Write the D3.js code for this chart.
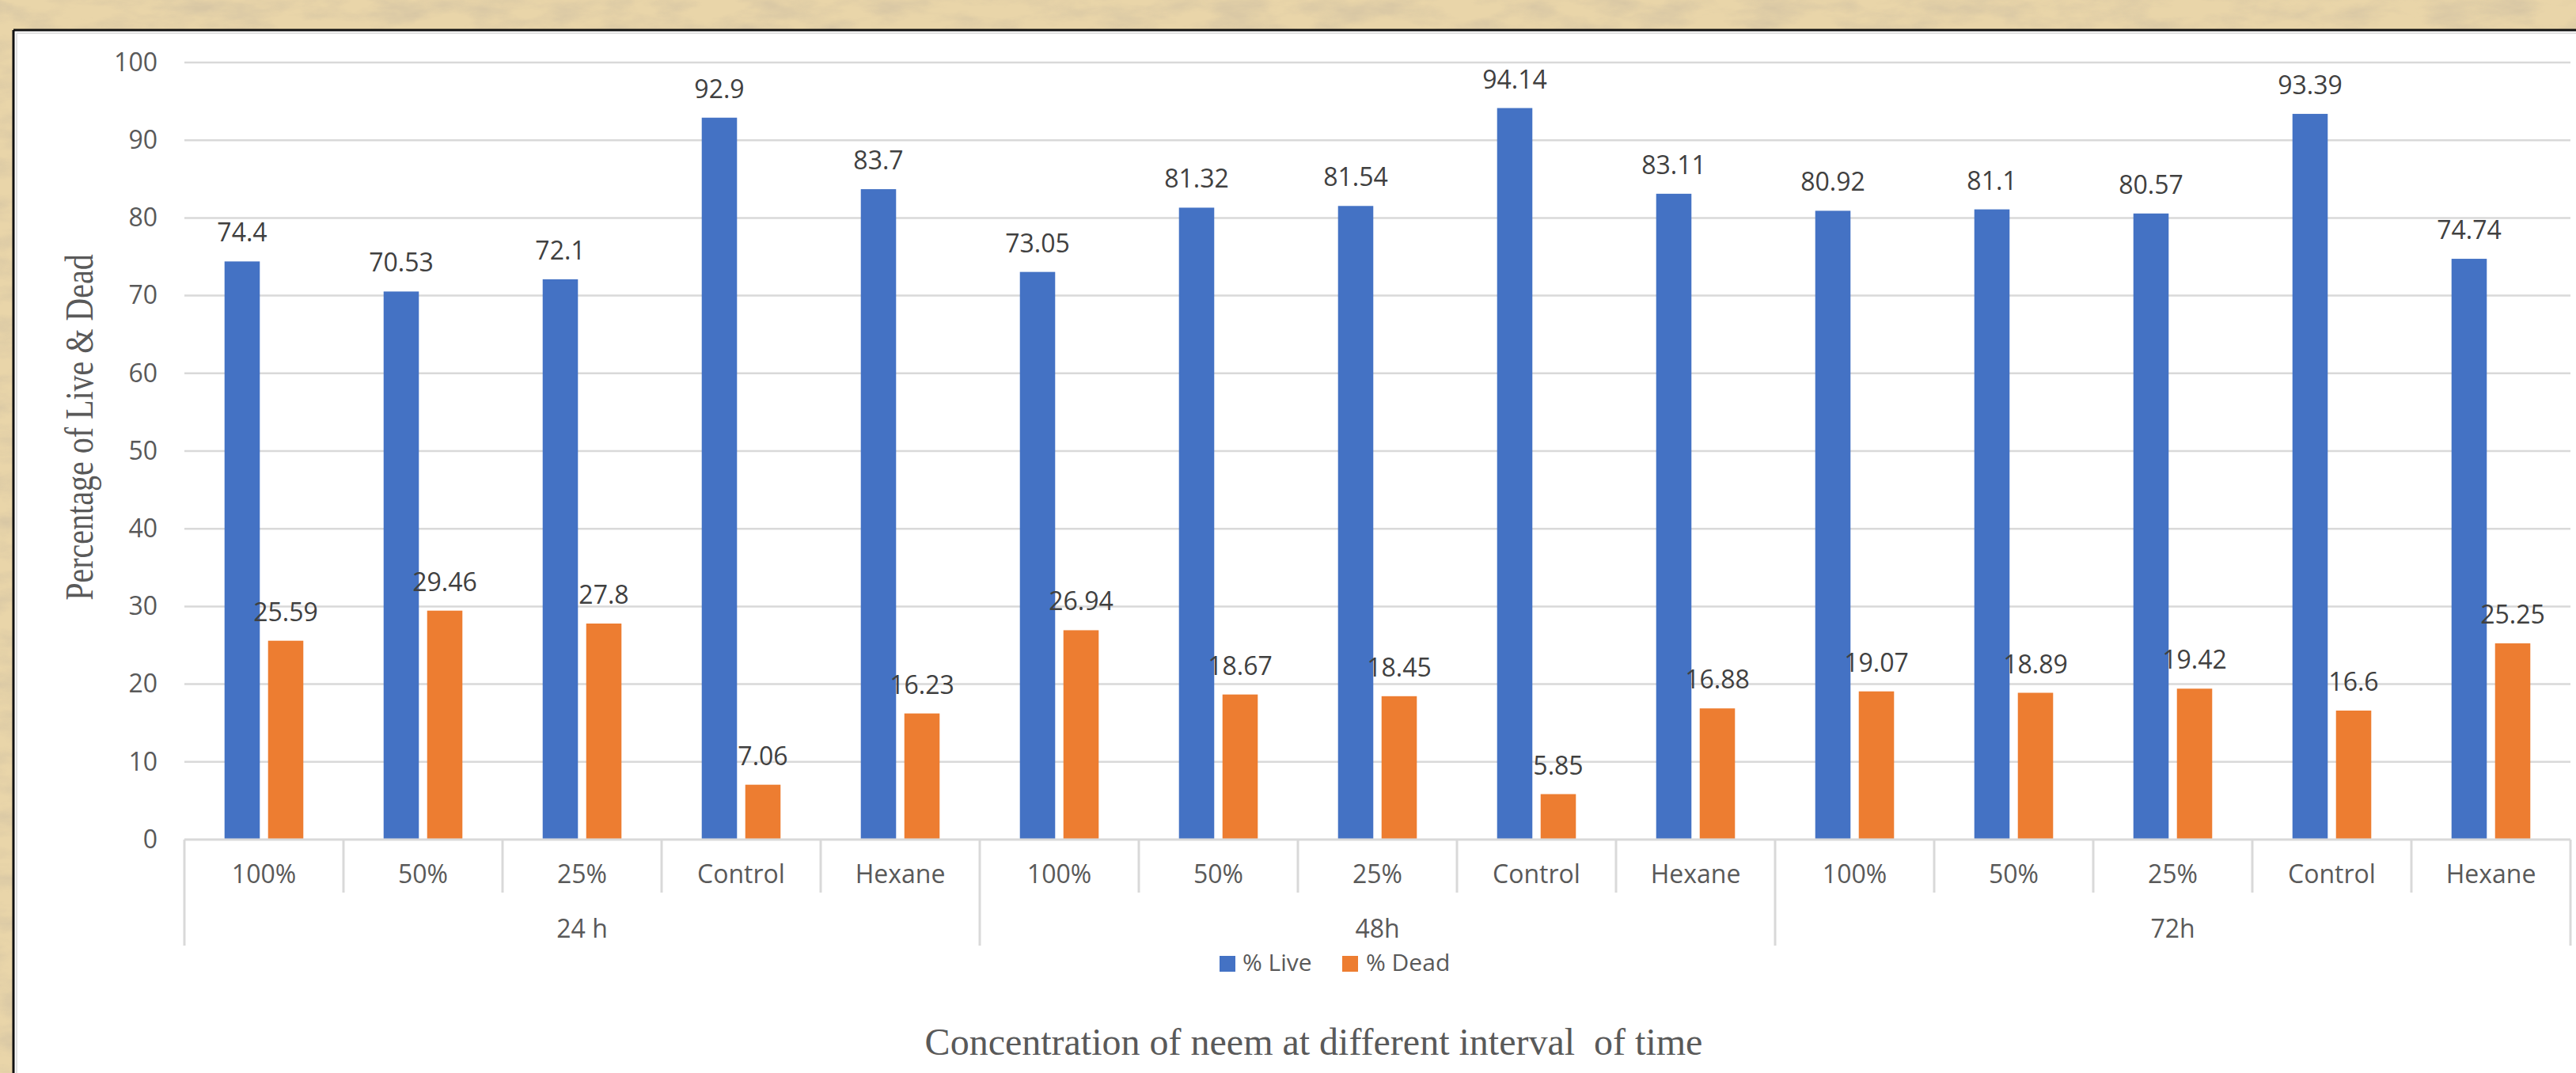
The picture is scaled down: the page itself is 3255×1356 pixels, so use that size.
<!DOCTYPE html>
<html><head><meta charset="utf-8">
<script src="https://cdn.jsdelivr.net/npm/d3@7/dist/d3.min.js"></script>
<style>html,body{margin:0;padding:0;overflow:hidden;background:#e8d4a6}</style>
</head><body>
<script>
const groups = ["24 h", "48h", "72h"];
const concentrations = ["100%", "50%", "25%", "Control", "Hexane"];
const seriesNames = ["% Live", "% Dead"];
const liveValues = [74.4, 70.53, 72.1, 92.9, 83.7, 73.05, 81.32, 81.54, 94.14, 83.11, 80.92, 81.1, 80.57, 93.39, 74.74];
const deadValues = [25.59, 29.46, 27.8, 7.06, 16.23, 26.94, 18.67, 18.45, 5.85, 16.88, 19.07, 18.89, 19.42, 16.6, 25.25];
const yTicks = [0, 10, 20, 30, 40, 50, 60, 70, 80, 90, 100];
const colors = ["#4472C4", "#ED7D31"];

const W = 3255, H = 1356;
const svg = d3.select("body").append("svg").attr("width", W).attr("height", H);

// parchment background
const defs = svg.append("defs");
const f = defs.append("filter").attr("id", "paper").attr("x", 0).attr("y", 0).attr("width", "100%").attr("height", "100%");
f.append("feTurbulence").attr("type", "fractalNoise").attr("baseFrequency", "0.015 0.04").attr("numOctaves", 5).attr("seed", 7).attr("result", "n");
f.append("feColorMatrix").attr("in", "n").attr("type", "matrix")
  .attr("values", "0 0 0 0 0.62  0 0 0 0 0.52  0 0 0 0 0.36  0 0 0 -2.2 1.35").attr("result", "c");
f.append("feComposite").attr("in", "c").attr("in2", "SourceGraphic").attr("operator", "in");
svg.append("rect").attr("width", W).attr("height", H).attr("fill", "#e9d5a9");
svg.append("rect").attr("width", W).attr("height", H).attr("fill", "#e9d5a9").attr("filter", "url(#paper)").attr("opacity", 0.6);

// chart area
svg.append("rect").attr("x", 17).attr("y", 38).attr("width", W - 17).attr("height", H - 38).attr("fill", "#ffffff");
svg.append("line").attr("x1", 17).attr("x2", W).attr("y1", 38).attr("y2", 38).attr("stroke", "#111").attr("stroke-width", 3);
svg.append("line").attr("x1", 17).attr("x2", 17).attr("y1", 38).attr("y2", H).attr("stroke", "#111").attr("stroke-width", 3);
svg.append("line").attr("x1", 21).attr("x2", W).attr("y1", 42).attr("y2", 42).attr("stroke", "#e2e2e2").attr("stroke-width", 2);
svg.append("line").attr("x1", 21).attr("x2", 21).attr("y1", 42).attr("y2", H).attr("stroke", "#e2e2e2").attr("stroke-width", 2);

const plotL = 233, plotR = 3248, plotT = 79, plotB = 1061;
const idx = d3.range(liveValues.length);
const x0 = d3.scaleBand().domain(idx).range([plotL, plotR]).paddingInner(0).paddingOuter(0);
const x1 = d3.scaleBand().domain(seriesNames).range([0, x0.bandwidth()]).paddingInner(0.19).paddingOuter(0.922);
const y = d3.scaleLinear().domain([0, 100]).range([plotB, plotT]);

const grid = "#d9d9d9";
const sans = "'Open Sans', 'Noto Sans', sans-serif";
const serif = "'Liberation Serif', 'Times New Roman', serif";

// gridlines
svg.append("g").selectAll("line").data(yTicks.filter(d => d > 0)).join("line")
  .attr("x1", plotL).attr("x2", plotR).attr("y1", d => y(d)).attr("y2", d => y(d))
  .attr("stroke", grid).attr("stroke-width", 2.5);

// y axis
const yAxis = svg.append("g").attr("transform", `translate(${plotL},0)`)
  .call(d3.axisLeft(y).tickValues(yTicks).tickSize(0).tickPadding(34));
yAxis.select(".domain").remove();
yAxis.selectAll("text").attr("font-family", sans).attr("font-size", 32).attr("fill", "#595959");

// bars
const series = [liveValues, deadValues];
series.forEach((vals, s) => {
  svg.append("g").selectAll("rect").data(idx).join("rect")
    .attr("x", i => x0(i) + x1(seriesNames[s]))
    .attr("width", x1.bandwidth())
    .attr("y", i => y(vals[i]))
    .attr("height", i => plotB - y(vals[i]))
    .attr("fill", colors[s]);
  svg.append("g").selectAll("text").data(idx).join("text")
    .attr("x", i => x0(i) + x1(seriesNames[s]) + x1.bandwidth() / 2)
    .attr("y", i => y(vals[i]) - 25)
    .attr("text-anchor", "middle")
    .attr("font-family", sans).attr("font-size", 32).attr("fill", "#404040")
    .text(i => String(vals[i]));
});

// x axis baseline
svg.append("line").attr("x1", plotL).attr("x2", plotR).attr("y1", plotB).attr("y2", plotB)
  .attr("stroke", grid).attr("stroke-width", 3);

// separators
const nPer = concentrations.length;
d3.range(liveValues.length + 1).forEach(k => {
  const xx = k < liveValues.length ? x0(k) : plotR;
  const long = k % nPer === 0;
  svg.append("line").attr("x1", xx).attr("x2", xx).attr("y1", plotB).attr("y2", long ? 1195 : 1128)
    .attr("stroke", grid).attr("stroke-width", 3);
});

// category labels
svg.append("g").selectAll("text").data(idx).join("text")
  .attr("x", i => x0(i) + x0.bandwidth() / 2).attr("y", 1116)
  .attr("text-anchor", "middle").attr("font-family", sans).attr("font-size", 32).attr("fill", "#595959")
  .text(i => concentrations[i % nPer]);

// group labels
svg.append("g").selectAll("text").data(groups).join("text")
  .attr("x", (g, j) => (x0(j * nPer) + (j * nPer + nPer < liveValues.length ? x0(j * nPer + nPer) : plotR)) / 2)
  .attr("y", 1185)
  .attr("text-anchor", "middle").attr("font-family", sans).attr("font-size", 32).attr("fill", "#595959")
  .text(g => g);

// legend
const leg = [{x: 1541, tx: 1570}, {x: 1696, tx: 1726}];
seriesNames.forEach((n, s) => {
  svg.append("rect").attr("x", leg[s].x).attr("y", 1208).attr("width", 20).attr("height", 20).attr("fill", colors[s]);
  svg.append("text").attr("x", leg[s].tx).attr("y", 1227).attr("font-family", sans).attr("font-size", 30)
    .attr("fill", "#595959").text(n);
});

// axis titles
svg.append("text").attr("x", 1660).attr("y", 1333).attr("text-anchor", "middle")
  .attr("font-family", serif).attr("font-size", 48).attr("fill", "#595959")
  .style("white-space", "pre")
  .text("Concentration of neem at different interval  of time");
svg.append("text").attr("transform", "translate(117,540) rotate(-90) scale(1,1.25)")
  .attr("text-anchor", "middle").attr("font-family", serif).attr("font-size", 40).attr("fill", "#595959")
  .text("Percentage of Live & Dead");
</script>
</body></html>
